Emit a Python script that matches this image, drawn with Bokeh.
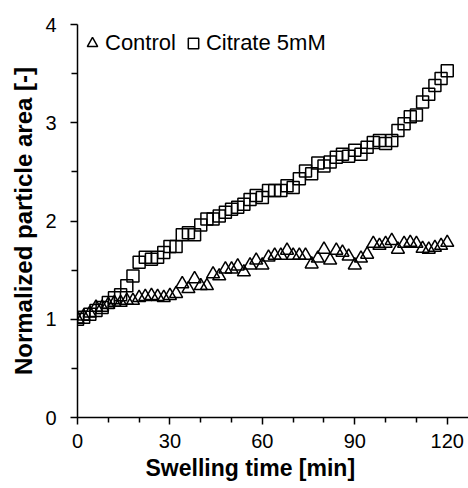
from bokeh.plotting import figure
from bokeh.models import LinearAxis, FixedTicker, Legend, LegendItem, Range1d, Title
from bokeh.embed import file_html
from bokeh.resources import INLINE

# ---- data ----
time_min = [0, 2, 4, 6, 8, 10, 12, 14, 16, 18, 20, 22, 24, 26, 28, 30, 32, 34, 36, 38,
            40, 42, 44, 46, 48, 50, 52, 54, 56, 58, 60, 62, 64, 66, 68, 70, 72, 74, 76, 78,
            80, 82, 84, 86, 88, 90, 92, 94, 96, 98, 100, 102, 104, 106, 108, 110, 112, 114,
            116, 118, 120]

control = [1.00, 1.03, 1.06, 1.12, 1.12, 1.15, 1.17, 1.17, 1.19, 1.19, 1.22, 1.23, 1.24,
           1.23, 1.22, 1.24, 1.26, 1.36, 1.31, 1.41, 1.34, 1.34, 1.46, 1.44, 1.51, 1.51,
           1.54, 1.48, 1.55, 1.60, 1.55, 1.63, 1.65, 1.65, 1.70, 1.65, 1.65, 1.65, 1.56,
           1.62, 1.71, 1.60, 1.70, 1.68, 1.64, 1.55, 1.62, 1.66, 1.77, 1.75, 1.77, 1.80,
           1.71, 1.77, 1.78, 1.77, 1.72, 1.71, 1.73, 1.75, 1.78]

citrate = [1.00, 1.02, 1.05, 1.09, 1.12, 1.17, 1.22, 1.25, 1.34, 1.44, 1.58, 1.63, 1.61,
           1.63, 1.68, 1.74, 1.74, 1.86, 1.88, 1.86, 1.96, 2.02, 2.02, 2.05, 2.09, 2.12,
           2.14, 2.17, 2.22, 2.26, 2.24, 2.31, 2.31, 2.31, 2.36, 2.34, 2.43, 2.51, 2.48,
           2.59, 2.56, 2.60, 2.65, 2.68, 2.66, 2.72, 2.68, 2.75, 2.80, 2.82, 2.79, 2.82,
           2.92, 2.99, 3.06, 3.08, 3.21, 3.29, 3.38, 3.45, 3.53]

x_ticks = [0, 30, 60, 90, 120]
x_minor = [10, 20, 40, 50, 70, 80, 100, 110]
y_ticks = [0, 1, 2, 3, 4]
y_minor = [0.5, 1.5, 2.5, 3.5]

series_labels = ["Control", "Citrate 5mM"]
x_title = "Swelling time [min]"
y_title = "Normalized particle area [-]"

FONT = "Liberation Sans"

p = figure(width=468, height=488, output_backend="svg", toolbar_location=None,
           x_range=Range1d(0, 126.9), y_range=Range1d(0, 4),
           x_axis_location=None, y_axis_location=None,
           min_border_left=77, min_border_right=0, min_border_top=24,
           min_border_bottom=71)
p.outline_line_color = None
p.background_fill_color = "white"
p.border_fill_color = "white"
p.grid.visible = False


def style_axis(ax):
    ax.axis_line_color = "black"
    ax.axis_line_width = 1.5
    ax.major_tick_line_color = "black"
    ax.major_tick_line_width = 1.5
    ax.minor_tick_line_color = "black"
    ax.minor_tick_line_width = 1.5
    ax.major_tick_in = 0
    ax.minor_tick_in = 0
    ax.major_tick_out = 7
    ax.major_label_text_font = FONT
    ax.major_label_text_font_size = "20px"
    ax.major_label_text_color = "black"


xaxis = LinearAxis(ticker=FixedTicker(ticks=x_ticks, minor_ticks=x_minor))
style_axis(xaxis)
xaxis.minor_tick_out = 5
xaxis.major_label_standoff = 9
p.add_layout(xaxis, "below")

x_label = Title(text=x_title, align="left", offset=68, standoff=5,
                vertical_align="bottom",
                text_font=FONT, text_font_size="23px", text_font_style="bold",
                text_color="black")
p.add_layout(x_label, "below")

yaxis = LinearAxis(ticker=FixedTicker(ticks=y_ticks, minor_ticks=y_minor))
style_axis(yaxis)
yaxis.minor_tick_out = 6
yaxis.major_label_standoff = 14
p.add_layout(yaxis, "left")

y_label = Title(text=y_title, align="center", standoff=12,
                vertical_align="bottom",
                text_font=FONT, text_font_size="24px", text_font_style="bold",
                text_color="black")
p.add_layout(y_label, "left")

r_ctrl = p.scatter(time_min, control, marker="triangle", size=13,
                   line_color="black", line_width=1.5, fill_color=None)
r_cit = p.scatter(time_min, citrate, marker="square", size=12,
                  line_color="black", line_width=1.5, fill_color=None)

legend = Legend(items=[LegendItem(label=series_labels[0], renderers=[r_ctrl]),
                       LegendItem(label=series_labels[1], renderers=[r_cit])],
                orientation="horizontal", location=(2, 361.5),
                padding=2, margin=0, spacing=4,
                glyph_width=26, glyph_height=26, label_standoff=0,
                border_line_color=None, background_fill_alpha=0,
                label_text_font=FONT, label_text_font_size="22px",
                label_text_color="black")
p.add_layout(legend)

open("out.html", "w").write(file_html(p, INLINE))
